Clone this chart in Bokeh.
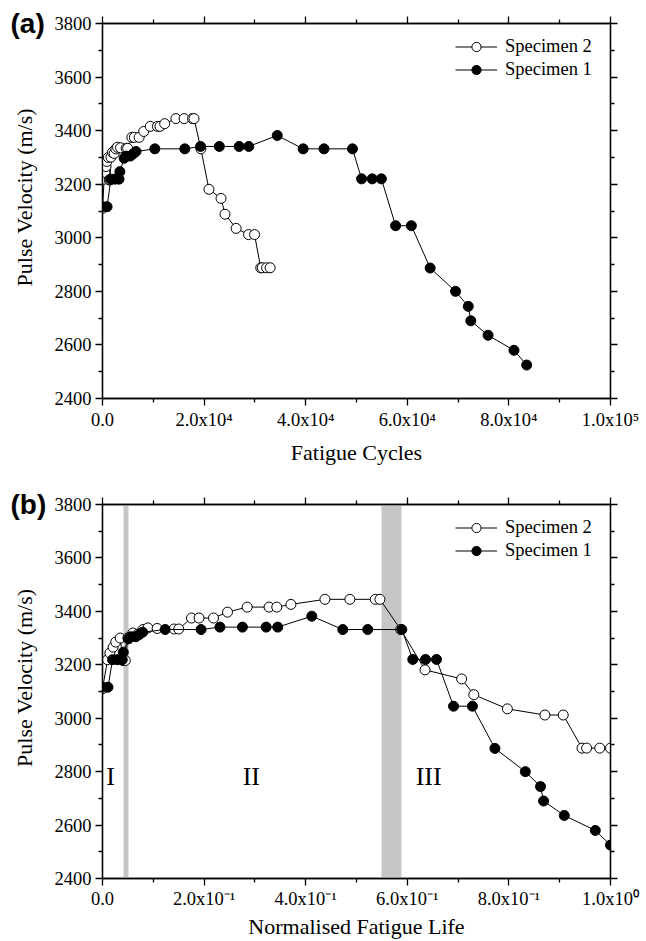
from bokeh.plotting import figure
from bokeh.layouts import column
from bokeh.models import (FixedTicker, CustomJSTickFormatter, LinearAxis, Legend,
                          LegendItem, Title, Range1d)
from bokeh.core.properties import value
from bokeh.embed import file_html
from bokeh.resources import INLINE

# ---------------- data ----------------
spec1_cycles = [0, 900, 1650, 2450, 3250, 3420, 4260, 4680, 5480, 6010, 6600, 10300,
                16200, 19300, 23000, 26900, 28800, 34400, 39500, 43600, 49200, 51000,
                53100, 54900, 57700, 60800, 64500, 69500, 72000, 72500, 75900, 81000, 83500]
spec1_velocity = [3116, 3116, 3219, 3219, 3219, 3247, 3297, 3305, 3305, 3313, 3322, 3332,
                  3332, 3341, 3341, 3341, 3341, 3382, 3332, 3332, 3332, 3220,
                  3220, 3220, 3045, 3045, 2887, 2800, 2744, 2690, 2636, 2580, 2525]

spec2_cycles = [0, 330, 480, 690, 860, 1150, 1330, 1480, 1650, 1970, 2300, 2630, 2950,
                3550, 4650, 4950, 5780, 6270, 7210, 8120, 9400, 10820, 11320, 12240,
                14450, 16070, 17720, 18020, 19370, 20950, 23330, 24120, 26300, 28740,
                29930, 31150, 31450, 32300, 33000]
spec2_velocity = [3110, 3219, 3244, 3266, 3285, 3300, 3216, 3216, 3301, 3319, 3315, 3332, 3338,
                  3336, 3334, 3334, 3375, 3375, 3375, 3397, 3416, 3416, 3416, 3426,
                  3445, 3445, 3445, 3445, 3332, 3181, 3147, 3088, 3035, 3012,
                  3012, 2888, 2888, 2888, 2888]

spec1_norm = [c / spec1_cycles[-1] for c in spec1_cycles]
spec2_norm = [c / spec2_cycles[-1] for c in spec2_cycles]

x_ticks_a = [0, 20000, 40000, 60000, 80000, 100000]
x_minor_a = [10000, 30000, 50000, 70000, 90000]
x_labels_a = ["0.0", "2.0x10\u2074", "4.0x10\u2074", "6.0x10\u2074", "8.0x10\u2074", "1.0x10\u2075"]

x_ticks_b = [0.0, 0.2, 0.4, 0.6, 0.8, 1.0]
x_minor_b = [0.1, 0.3, 0.5, 0.7, 0.9]
x_labels_b = ["0.0", "2.0x10\u207b\u00b9", "4.0x10\u207b\u00b9", "6.0x10\u207b\u00b9",
              "8.0x10\u207b\u00b9", "1.0x10\u2070"]

y_ticks = [2400, 2600, 2800, 3000, 3200, 3400, 3600, 3800]
y_minor = [2500, 2700, 2900, 3100, 3300, 3500, 3700]
y_labels = ["2400", "2600", "2800", "3000", "3200", "3400", "3600", "3800"]

band_start = [0.041, 0.549]
band_end = [0.051, 0.588]

region_labels = ["I", "II", "III"]
region_x = [0.016, 0.293, 0.642]
region_y = [2780, 2780, 2780]

SERIF = "Liberation Serif"
SANS = "Liberation Sans"
Y_TITLE = "\u00a0" * 5 + "Pulse Velocity (m/s)"


def fmt(ticks, labels):
    return CustomJSTickFormatter(
        args=dict(t=ticks, l=labels),
        code="for (let i = 0; i < t.length; i++) { if (Math.abs(t[i] - tick) < 1e-9 * Math.max(1, Math.abs(tick))) return l[i]; } return '';")


def style_axis(ax, ticks, minor, labels=None):
    ax.ticker = FixedTicker(ticks=ticks, minor_ticks=minor)
    ax.axis_line_color = "black"
    ax.axis_line_width = 1.3
    ax.major_tick_line_color = "black"
    ax.major_tick_line_width = 1.3
    ax.minor_tick_line_color = "black"
    ax.minor_tick_line_width = 1.3
    ax.major_tick_in = 0
    ax.major_tick_out = 7
    ax.minor_tick_in = 0
    ax.minor_tick_out = 4
    ax.major_label_text_font = SERIF
    ax.major_label_text_font_size = "18.5px"
    ax.major_label_text_color = "black"
    ax.axis_label_text_font = SERIF
    ax.axis_label_text_font_size = "22px"
    ax.axis_label_text_font_style = "normal"
    ax.axis_label_text_color = "black"
    if labels is not None:
        ax.formatter = fmt(ticks, labels)
    else:
        ax.formatter = CustomJSTickFormatter(code="return '';")


def make_panel(xmax, height, top, bottom, x_ticks, x_minor, x_labels, xlabel, tag,
               lab_standoff, title_standoff):
    p = figure(width=646, height=height, x_range=Range1d(0, xmax),
               y_range=Range1d(2400, 3800), output_backend="svg", title=None,
               toolbar_location=None, min_border_left=102, min_border_right=36,
               min_border_top=top, min_border_bottom=bottom)
    p.xgrid.visible = False
    p.ygrid.visible = False
    p.outline_line_color = "black"
    p.outline_line_width = 1.3
    p.background_fill_color = "white"
    p.border_fill_color = "white"

    style_axis(p.xaxis[0], x_ticks, x_minor, x_labels)
    p.xaxis[0].axis_label = xlabel
    p.xaxis[0].major_label_standoff = lab_standoff
    p.xaxis[0].axis_label_standoff = title_standoff
    style_axis(p.yaxis[0], y_ticks, y_minor, y_labels)
    p.yaxis[0].axis_label = Y_TITLE
    p.yaxis[0].major_label_standoff = 4
    p.yaxis[0].axis_label_standoff = 15

    # panel tag, placed nearest to the frame with (almost) zero layout height
    tag_title = Title(text=tag, text_font=SANS, text_font_style="bold",
                      text_font_size="28px", text_color="black", align="left",
                      vertical_align="middle", offset=-92, standoff=-33)
    p.add_layout(tag_title, "above")

    top_ax = LinearAxis()
    style_axis(top_ax, x_ticks, x_minor)
    right_ax = LinearAxis()
    style_axis(right_ax, y_ticks, y_minor)
    p.add_layout(top_ax, "above")
    p.add_layout(right_ax, "right")
    return p


pa = make_panel(100000, 470, 23, 72, x_ticks_a, x_minor_a, x_labels_a,
                "Fatigue Cycles", "(a)", 4, 7)
pb = make_panel(1.0, 471, 34, 63, x_ticks_b, x_minor_b, x_labels_b,
                "Normalised Fatigue Life", "(b)", 3, 2)

# bands and region labels (panel b)
pb.vstrip(x0=band_start, x1=band_end, fill_color="#c6c6c6", line_color=None)
pb.text(x=region_x, y=region_y, text=region_labels, text_font=value(SERIF),
        text_font_size="26px", text_align="center", text_baseline="middle",
        text_color="black")


def add_series(p, x1, x2):
    l2 = p.line(x2, spec2_velocity, line_color="black", line_width=1)
    s2 = p.scatter(x2, spec2_velocity, marker="circle", size=10, fill_color="white",
                   line_color="black", line_width=1)
    l1 = p.line(x1, spec1_velocity, line_color="black", line_width=1)
    s1 = p.scatter(x1, spec1_velocity, marker="circle", size=10, fill_color="black",
                   line_color="black", line_width=1)
    legend = Legend(items=[LegendItem(label="Specimen 2", renderers=[l2, s2]),
                           LegendItem(label="Specimen 1", renderers=[l1, s1])],
                    location="top_right", background_fill_alpha=0,
                    border_line_alpha=0, label_text_font=SERIF,
                    label_text_font_size="18.5px", label_text_color="black",
                    glyph_width=42, glyph_height=23, label_height=23, label_width=93,
                    label_standoff=8, spacing=0, padding=12, margin=0)
    p.add_layout(legend)


add_series(pa, spec1_cycles, spec2_cycles)
add_series(pb, spec1_norm, spec2_norm)

layout = column(pa, pb, spacing=0)
open("out.html", "w").write(file_html(layout, INLINE))
